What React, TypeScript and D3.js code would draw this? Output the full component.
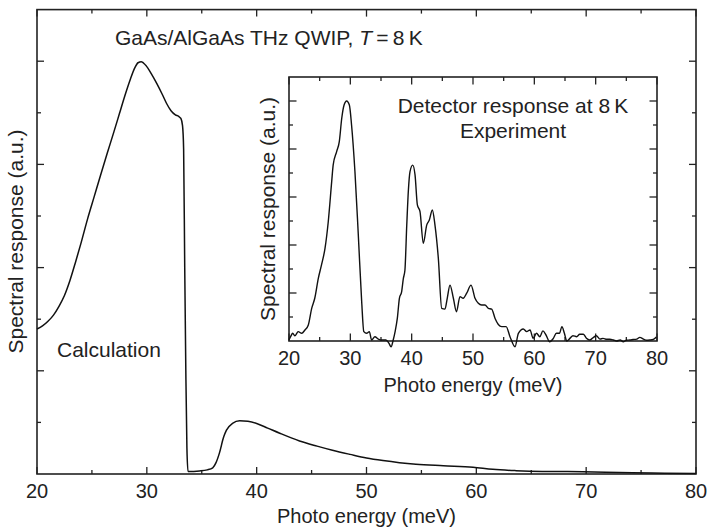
import React from "react";
import * as d3 from "d3";

// ---- Data ----
// Main panel: calculation (photo energy in meV, response in axis tick units)
const calcEnergy = [20, 20.5, 21, 21.5, 22, 22.5, 23, 23.5, 24, 24.6, 25.2, 25.8, 26.4, 27, 27.5, 28, 28.5, 28.9, 29.2, 29.5, 29.9, 30.4, 30.9, 31.4, 31.8, 32.2, 32.6, 32.9, 33.1, 33.25, 33.35, 33.45, 33.55, 33.65, 33.75, 34.8, 35.5, 36.0, 36.3, 36.6, 37.0, 37.25, 37.8, 38.45, 39.2, 40, 41, 42.1, 43.9, 45.5, 46.9, 48.5, 50, 51.5, 53, 54.5, 57, 59.7, 61.5, 63.6, 66, 69.7, 73, 76, 80];
const calcResponse = [2.81, 2.87, 2.96, 3.08, 3.25, 3.46, 3.75, 4.1, 4.47, 4.94, 5.37, 5.8, 6.22, 6.63, 6.98, 7.33, 7.65, 7.87, 7.97, 7.99, 7.92, 7.76, 7.57, 7.36, 7.18, 7.04, 6.96, 6.93, 6.89, 6.75, 6.3, 4.0, 2.0, 0.5, 0.05, 0.06, 0.08, 0.12, 0.22, 0.4, 0.72, 0.85, 0.98, 1.03, 1.02, 0.98, 0.89, 0.79, 0.64, 0.54, 0.46, 0.38, 0.31, 0.26, 0.22, 0.19, 0.16, 0.13, 0.09, 0.065, 0.05, 0.045, 0.03, 0.02, 0.01];

// Inset: experiment
const expEnergy = [20.0, 20.3, 20.6, 20.98, 21.5, 22.07, 22.6, 23.15, 23.7, 24.2, 24.78, 25.3, 25.87, 26.4, 26.96, 27.2, 27.77, 28.2, 28.6, 28.98, 29.4, 29.84, 30.2, 30.75, 31.3, 31.85, 32.2, 32.66, 33.1, 33.47, 34.0, 34.57, 35.1, 35.8, 36.3, 36.64, 37.0, 37.3, 37.66, 38.0, 38.37, 38.64, 38.9, 39.2, 39.47, 39.73, 40.17, 40.55, 40.93, 41.36, 41.9, 42.45, 42.88, 43.37, 43.8, 44.35, 44.9, 45.43, 45.8, 46.25, 46.8, 47.3, 47.88, 48.4, 48.97, 49.68, 50.33, 50.87, 51.4, 51.95, 52.5, 53.04, 53.6, 54.13, 54.67, 55.4, 56.03, 56.85, 57.4, 58.2, 58.75, 59.3, 59.8, 60.35, 60.9, 61.4, 61.9, 62.5, 63.1, 63.6, 64.1, 64.5, 64.9, 65.3, 65.8, 66.3, 66.9, 67.4, 68.0, 68.5, 69.0, 69.6, 70.1, 70.7, 71.2, 71.8, 72.3, 72.9, 73.4, 74.0, 74.5, 75.0, 75.6, 76.1, 76.7, 77.2, 77.8, 78.3, 78.8, 79.4, 79.9];
const expResponse = [0.05, 0.2, 0.32, 0.22, 0.39, 0.32, 0.46, 0.67, 1.36, 1.78, 2.61, 3.17, 3.86, 4.97, 6.64, 7.33, 7.89, 8.31, 9.28, 9.83, 10.0, 9.83, 9.0, 7.06, 4.42, 1.64, 0.39, 0.32, 0.39, 0.04, 0.18, 0.08, 0.04, 0.04, -0.1, -0.24, 0.05, 0.39, 0.94, 1.78, 2.06, 2.6, 2.95, 4.83, 6.3, 7.06, 7.33, 6.92, 5.67, 5.39, 4.07, 4.83, 5.04, 5.46, 4.83, 3.44, 1.36, 1.33, 1.78, 2.33, 1.78, 1.22, 1.85, 1.78, 1.99, 2.33, 1.78, 1.57, 1.5, 1.5, 1.36, 1.33, 0.94, 0.69, 0.6, 0.6, 0.18, -0.24, 0.32, 0.5, 0.39, 0.46, 0.11, 0.32, 0.18, 0.42, 0.25, -0.03, 0.11, 0.32, 0.32, 0.6, 0.32, 0, 0.11, 0.22, 0.18, 0.28, 0.28, 0.11, 0.04, 0.14, 0.22, 0.08, 0.11, 0.07, 0.07, 0.04, 0, 0.04, -0.03, 0.03, 0.04, 0.06, 0.08, 0.15, 0.08, 0.03, 0.04, 0.07, 0.17];

const xTickLabels = [20, 30, 40, 50, 60, 70, 80];
const xMinorTicks = [25, 35, 45, 55, 65, 75];
const mainYTicks = [1, 2, 3, 4, 5, 6, 7, 8];
const insetYTicks = [1, 2, 3, 4, 5, 6, 7, 8, 9, 10];

const FONT = "'Liberation Sans', Arial, Helvetica, sans-serif";
const INK = "#222";

export default function App() {
  const W = 708, H = 528;
  // main panel
  const mx = d3.scaleLinear().domain([20, 80]).range([37, 696]);
  const my = d3.scaleLinear().domain([0, 9]).range([474, 9.6]);
  // inset
  const ix = d3.scaleLinear().domain([20, 80]).range([289, 657]);
  const iy = d3.scaleLinear().domain([0, 11]).range([341, 77]);

  const mainLine = d3.line<number>()
    .x((_, i) => mx(calcEnergy[i]))
    .y((_, i) => my(calcResponse[i]))
    .curve(d3.curveMonotoneX);
  const insetLine = d3.line<number>()
    .x((_, i) => ix(expEnergy[i]))
    .y((_, i) => iy(expResponse[i]))
    .curve(d3.curveMonotoneX);

  const axisW = 1.6;

  const frame = (x0: number, x1: number, y0: number, y1: number) => (
    <rect x={x0} y={y1} width={x1 - x0} height={y0 - y1} fill="#fff" stroke={INK} strokeWidth={axisW} />
  );

  const xTicks = (sx: d3.ScaleLinear<number, number>, y0: number, y1: number, maj: number, min: number) => (
    <g stroke={INK} strokeWidth={1.3}>
      {xTickLabels.map((t) => (
        <g key={"M" + t}>
          <line x1={sx(t)} x2={sx(t)} y1={y0} y2={y0 - maj} />
          <line x1={sx(t)} x2={sx(t)} y1={y1} y2={y1 + maj} />
        </g>
      ))}
      {xMinorTicks.map((t) => (
        <g key={"m" + t}>
          <line x1={sx(t)} x2={sx(t)} y1={y0} y2={y0 - min} />
          <line x1={sx(t)} x2={sx(t)} y1={y1} y2={y1 + min} />
        </g>
      ))}
    </g>
  );

  const yTicks = (sy: d3.ScaleLinear<number, number>, ticks: number[], x0: number, x1: number, maj: number, min: number) => (
    <g stroke={INK} strokeWidth={1.3}>
      {ticks.map((t) => {
        const L = t % 2 === 0 ? maj : min;
        return (
          <g key={t}>
            <line x1={x0} x2={x0 + L} y1={sy(t)} y2={sy(t)} />
            <line x1={x1} x2={x1 - L} y1={sy(t)} y2={sy(t)} />
          </g>
        );
      })}
    </g>
  );

  return (
    <svg width={W} height={H} style={{ position: "absolute", left: 0, top: 0, background: "#fff" }} fontFamily={FONT}>
      {/* Main panel */}
      {frame(37, 696, 474, 9.6)}
      {xTicks(mx, 474, 9.6, 7, 4)}
      {yTicks(my, mainYTicks, 37, 696, 7, 4)}
      <path d={mainLine(calcEnergy) || ""} fill="none" stroke="#111" strokeWidth={1.5} />
      {xTickLabels.map((t) => (
        <text key={t} x={mx(t)} y={498} textAnchor="middle" fontSize={20} fill={INK}>{t}</text>
      ))}
      <text x={366.5} y={523} textAnchor="middle" fontSize={20} fill={INK}>Photo energy (meV)</text>
      <text transform={`translate(23,241.5) rotate(-90)`} textAnchor="middle" fontSize={21} fill={INK}>Spectral response (a.u.)</text>
      <text x={115} y={45} fontSize={21} fill={INK}>
        GaAs/AlGaAs THz QWIP, <tspan fontStyle="italic">T</tspan>{"\u2009=\u20098\u2009K"}
      </text>
      <text x={57} y={357} fontSize={21} fill={INK}>Calculation</text>

      {/* Inset */}
      {frame(289, 657, 341, 77)}
      {xTicks(ix, 341, 77, 7.5, 4)}
      {yTicks(iy, insetYTicks, 289, 657, 7.5, 4)}
      <path d={insetLine(expEnergy) || ""} fill="none" stroke="#111" strokeWidth={1.4} />
      {xTickLabels.map((t) => (
        <text key={t} x={ix(t)} y={365} textAnchor="middle" fontSize={20} fill={INK}>{t}</text>
      ))}
      <text x={473} y={391.5} textAnchor="middle" fontSize={20} fill={INK}>Photo energy (meV)</text>
      <text transform={`translate(275,209) rotate(-90)`} textAnchor="middle" fontSize={21} fill={INK}>Spectral response (a.u.)</text>
      <text x={513} y={113} textAnchor="middle" fontSize={21} fill={INK}>Detector response at 8{"\u2009"}K</text>
      <text x={513} y={138} textAnchor="middle" fontSize={21} fill={INK}>Experiment</text>
    </svg>
  );
}
